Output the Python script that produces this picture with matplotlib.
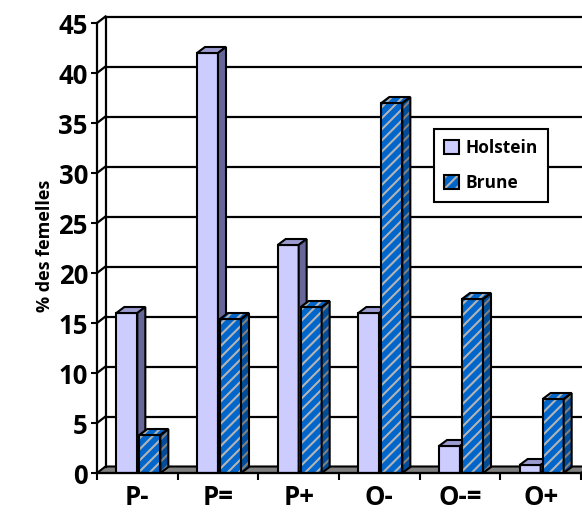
import matplotlib
matplotlib.use('Agg')
import matplotlib.pyplot as plt
from matplotlib.patches import Polygon, Patch

categories = ['P-', 'P=', 'P+', 'O-', 'O-=', 'O+']
holstein = [16, 42, 22.8, 16, 2.7, 0.8]
brune = [3.8, 15.4, 16.6, 37, 17.4, 7.4]
series_names = ['Holstein', 'Brune']
y_ticks = [0, 5, 10, 15, 20, 25, 30, 35, 40, 45]
y_label = '% des femelles'

plt.rcParams['font.family'] = ['Open Sans', 'DejaVu Sans']
plt.rcParams['hatch.linewidth'] = 1.5

H_FRONT, H_TOP, H_SIDE = '#CCCCFF', '#9C9CD0', '#666699'
B_FRONT, B_TOP, B_SIDE = '#0066CC', '#0066CC', '#004C99'
B_HATCH, B_HATCH_DARK = '#B4B4B4', '#808080'

W, H = 582, 524
fig = plt.figure(figsize=(W / 100, H / 100), dpi=100)
ax = fig.add_axes([97 / W, (H - 473) / H, 484 / W, 450 / H])
ax.set_xlim(0, len(categories))
ax.set_ylim(0, 45)

PX = len(categories) / 484.0
PY = 45 / 450.0
wdx, wdy = 8.5 * PX, 6.5 * PY
bdx, bdy = 8 * PX, 6 * PY
bw = 21 * PX

# back wall / floor
n = len(categories)
ax.add_patch(Polygon([(0, 0), (n, 0), (n + wdx, wdy), (wdx, wdy)], closed=True,
                     facecolor='#808080', edgecolor='black', lw=1.5, zorder=1, clip_on=False))
for t in y_ticks[1:]:
    ax.plot([wdx, n + wdx], [t + wdy, t + wdy], color='black', lw=1.6, zorder=1, clip_on=False)
    ax.plot([0, wdx], [t, t + wdy], color='black', lw=1.6, zorder=1, clip_on=False)
ax.plot([wdx, wdx], [wdy, 45 + wdy], color='black', lw=1.6, zorder=1, clip_on=False)


def hatched_poly(pts, fc, hc, z):
    ax.add_patch(Polygon(pts, closed=True, facecolor=fc, edgecolor=hc, hatch='///', lw=0,
                         zorder=z, clip_on=False))
    ax.add_patch(Polygon(pts, closed=True, fill=False, edgecolor='black', lw=1.5,
                         zorder=z + 0.01, clip_on=False))


xh = [i + 0.5 - bw for i in range(n)]
xb = [i + 0.5 + 2 * PX for i in range(n)]

# Holstein
ax.bar(xh, holstein, width=bw, align='edge', color=H_FRONT, edgecolor='black', lw=1.5, zorder=3)
for x0, v in zip(xh, holstein):
    x1 = x0 + bw
    ax.add_patch(Polygon([(x0, v), (x1, v), (x1 + bdx, v + bdy), (x0 + bdx, v + bdy)], closed=True,
                         facecolor=H_TOP, edgecolor='black', lw=1.5, zorder=3, clip_on=False))
    ax.add_patch(Polygon([(x1, 0), (x1 + bdx, bdy), (x1 + bdx, v + bdy), (x1, v)], closed=True,
                         facecolor=H_SIDE, edgecolor='black', lw=1.5, zorder=3, clip_on=False))

# Brune
ax.bar(xb, brune, width=bw, align='edge', color=B_FRONT, edgecolor=B_HATCH, hatch='///', lw=0, zorder=4)
ax.bar(xb, brune, width=bw, align='edge', fill=False, edgecolor='black', lw=1.5, zorder=4.05)
for x0, v in zip(xb, brune):
    x1 = x0 + bw
    hatched_poly([(x0, v), (x1, v), (x1 + bdx, v + bdy), (x0 + bdx, v + bdy)], B_TOP, B_HATCH, 4.1)
    hatched_poly([(x1, 0), (x1 + bdx, bdy), (x1 + bdx, v + bdy), (x1, v)], B_SIDE, B_HATCH_DARK, 4.1)

# axes styling
for s in ['top', 'right']:
    ax.spines[s].set_visible(False)
for s in ['left', 'bottom']:
    ax.spines[s].set_linewidth(1.6)
    ax.spines[s].set_zorder(5)
ax.set_yticks(y_ticks)
ax.set_yticklabels([str(t) for t in y_ticks], fontsize=18.5, fontweight='bold')
ax.tick_params(axis='y', direction='out', length=4.5, width=1.5, pad=2)
ax.set_xticks(range(n + 1))
ax.set_xticklabels([''] * (n + 1))
ax.set_xticks([i + 0.5 for i in range(n)], minor=True)
ax.set_xticklabels(categories, minor=True, fontsize=18.5, fontweight='bold')
ax.tick_params(axis='x', which='major', direction='out', length=5, width=1.5)
ax.tick_params(axis='x', which='minor', length=0, pad=8)

fig.text(45 / W, 1 - 246 / H, y_label, rotation=90, fontsize=13, fontweight='bold',
         ha='center', va='center')

handles = [Patch(facecolor=H_FRONT, edgecolor='black', lw=1.5),
           (Patch(facecolor=B_FRONT, edgecolor=B_HATCH, hatch='///', lw=0),
            Patch(fill=False, edgecolor='black', lw=1.5))]
leg = fig.legend(handles, series_names, loc='upper left', bbox_to_anchor=(434 / W, 1 - 129 / H),
                 frameon=True, fancybox=False, edgecolor='black', framealpha=1,
                 prop=dict(weight='bold', size=12.5), handlelength=0.85, handleheight=0.85,
                 handletextpad=0.35, borderpad=0.6, labelspacing=0.95, borderaxespad=0)
leg.get_frame().set_linewidth(1.5)
leg.set_zorder(10)

fig.savefig('out.png', dpi=100)
